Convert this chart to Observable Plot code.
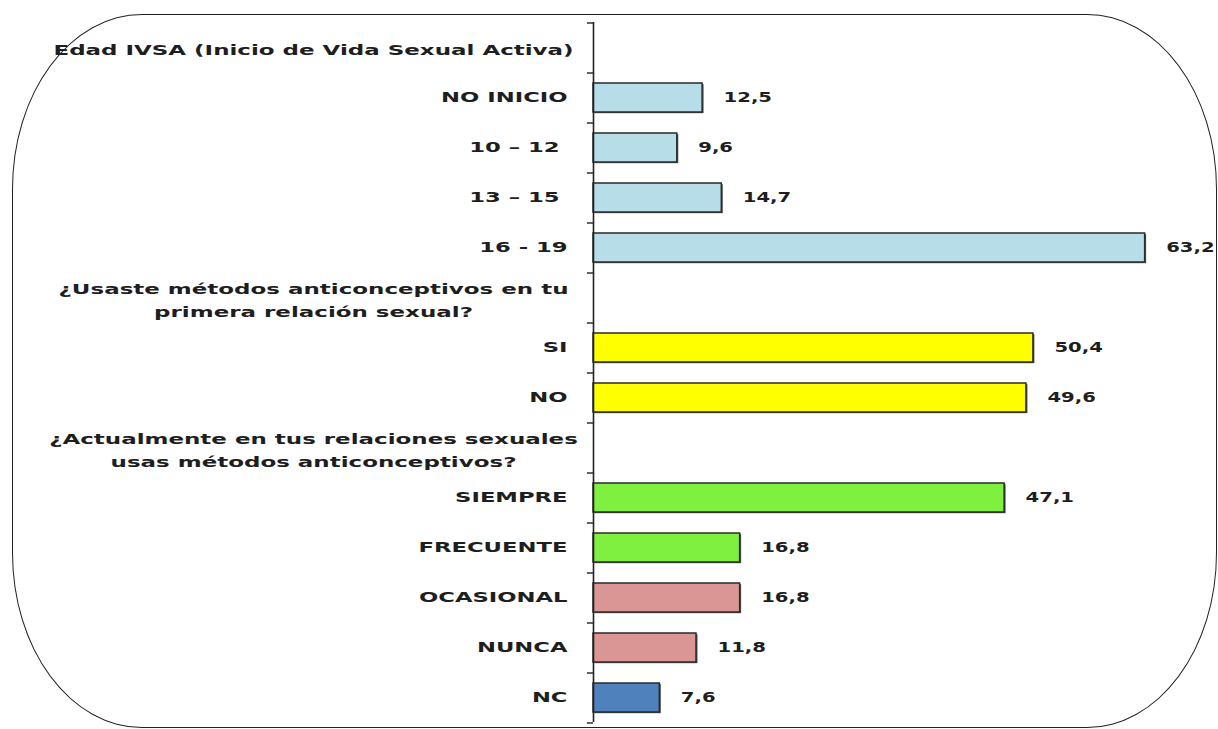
<!DOCTYPE html>
<html>
<head>
<meta charset="utf-8">
<script src="https://cdn.jsdelivr.net/npm/d3@7"></script>
<script src="https://cdn.jsdelivr.net/npm/@observablehq/plot@0.6"></script>
<style>
  html, body { margin: 0; padding: 0; background: #fff; }
  #wrap { position: relative; width: 1218px; height: 729px; overflow: hidden; }
  #frame {
    position: absolute; left: 12px; top: 14px; width: 1205px; height: 714px;
    box-sizing: border-box; border: 1.6px solid #222;
    border-radius: 130px / 175px; pointer-events: none; z-index: 2;
  }
  #chart { position: absolute; left: 0; top: 0; z-index: 1; }
</style>
</head>
<body>
<div id="wrap"><div id="chart"></div><div id="frame"></div></div>
<script>
// ---- data ----
const headers = [
  "Edad IVSA (Inicio de Vida Sexual Activa)",
  "¿Usaste métodos anticonceptivos en tu\nprimera relación sexual?",
  "¿Actualmente en tus relaciones sexuales\nusas métodos anticonceptivos?"
];
const labels = ["NO INICIO", "10 – 12\u00a0", "13 – 15\u00a0", "16 - 19", "SI", "NO",
                "SIEMPRE", "FRECUENTE", "OCASIONAL", "NUNCA", "NC"];
const values = [12.5, 9.6, 14.7, 63.2, 50.4, 49.6, 47.1, 16.8, 16.8, 11.8, 7.6];
const headerOf = [0, 0, 0, 0, 1, 1, 2, 2, 2, 2, 2];
const colorKey = ["age", "age", "age", "age", "first", "first", "now", "now", "rare", "rare", "nc"];
const colorKeys = ["age", "first", "now", "rare", "nc"];
const colorVals = ["#b7dee8", "#ffff00", "#80f040", "#d99694", "#4f81bd"];

// ---- rows (headers + bars) ----
const rows = [];
let lastHeader = -1;
labels.forEach((lab, i) => {
  if (headerOf[i] !== lastHeader) {
    lastHeader = headerOf[i];
    rows.push({key: "h" + lastHeader, header: headers[lastHeader]});
  }
  rows.push({key: "c" + i, label: lab, value: values[i], color: colorKey[i]});
});
const domain = rows.map(r => r.key);
const bars = rows.filter(r => r.value != null);
const heads = rows.filter(r => r.header);
const fmt = v => v.toFixed(1).replace(".", ",");

const font = "'DejaVu Sans', Verdana, sans-serif";
const textColor = "#1e1e1e";

const plot = Plot.plot({
  width: 1218,
  height: 729,
  marginLeft: 593,
  marginRight: 14,
  marginTop: 22,
  marginBottom: 7,
  style: {fontFamily: font, fontSize: "14px", fontWeight: "bold", background: "transparent"},
  x: {domain: [0, 70], axis: null},
  y: {domain, axis: null, paddingInner: 0.42, paddingOuter: 0.21},
  color: {domain: colorKeys, range: colorVals},
  marks: [
    // shadow
    Plot.barX(bars, {x: "value", y: "key", fill: "#555", dx: 1.5, dy: 1.2}),
    Plot.barX(bars, {x: "value", y: "key", fill: "color", stroke: "#2a2a2a", strokeWidth: 1.5}),
    Plot.ruleX([0], {stroke: "#222", strokeWidth: 1.6}),
    Plot.ruleY(domain, {y: d => d, x1: -0.7, x2: 0, dy: -25, stroke: "#222", strokeWidth: 1.4}),
    Plot.ruleY([domain[domain.length - 1]], {y: d => d, x1: -0.7, x2: 0, dy: 25, stroke: "#222", strokeWidth: 1.4}),
    Plot.text(bars, {x: 0, y: "key", text: "label", textAnchor: "end", dx: -26, fill: textColor}),
    Plot.text(heads, {x: 0, y: "key", text: "header", textAnchor: "middle", dx: -280, lineHeight: 1.65, fill: textColor}),
    Plot.text(bars, {x: "value", y: "key", text: d => fmt(d.value), textAnchor: "start", dx: 21, fill: textColor})
  ]
});
document.getElementById("chart").appendChild(plot);

// stretch glyphs horizontally to match the wide lettering of the original
const stretch = [1.62, 1.64, 1.4]; // category labels, headers, values
const textGroups = plot.querySelectorAll("g[aria-label='text']");
textGroups.forEach((g, gi) => {
  const f = stretch[gi] ?? 1.4;
  g.querySelectorAll("text").forEach(t => {
    const spans = t.querySelectorAll("tspan");
    const els = spans.length ? Array.from(spans) : [t];
    els.forEach(el => {
      const len = el.getComputedTextLength();
      if (len > 0) {
        el.setAttribute("textLength", (len * f).toFixed(1));
        el.setAttribute("lengthAdjust", "spacingAndGlyphs");
      }
    });
  });
});
</script>
</body>
</html>
